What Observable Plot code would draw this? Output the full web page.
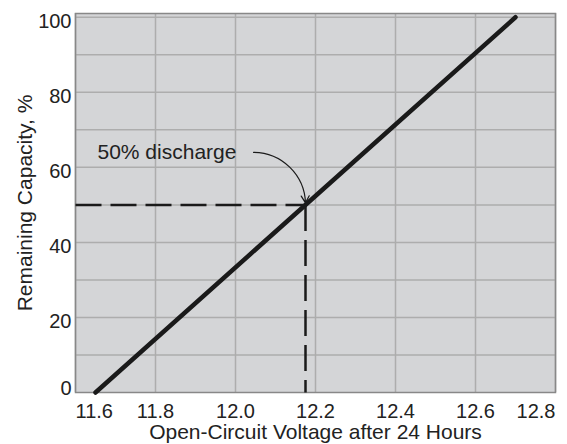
<!DOCTYPE html>
<html><head><meta charset="utf-8">
<script src="https://cdn.jsdelivr.net/npm/d3@7"></script>
<script src="https://cdn.jsdelivr.net/npm/@observablehq/plot@0.6"></script>
<style>body{margin:0;background:#fff;} #chart svg{display:block;}</style>
</head><body><div id="chart"></div>
<script>
// Data
const voltage = [11.65, 12.70];          // V, open-circuit after 24 h
const capacity = [0, 100];               // remaining capacity, %
const dischargeVoltage = [12.175];       // V at 50% discharge
const dischargeCapacity = [50];          // %
const annotationText = ["50% discharge"];
const annotationPos = [11.655, 64];      // label anchor (V, %)
const arrowFrom = [12.045, 64];          // arrow start (V, %)
const xDomain = [11.6, 12.8];
const yDomain = [0, 101];
const xTicks = [11.6, 11.8, 12.0, 12.2, 12.4, 12.6, 12.8];
const yTicks = [0, 20, 40, 60, 80, 100];
const yGrid = [10, 20, 30, 40, 50, 60, 70, 80, 90, 100];

const lineData = voltage.map((v, i) => ({v, c: capacity[i]}));
const dashData = [
  {x1: xDomain[0], y1: dischargeCapacity[0], x2: dischargeVoltage[0], y2: dischargeCapacity[0]},
  {x1: dischargeVoltage[0], y1: dischargeCapacity[0], x2: dischargeVoltage[0], y2: yDomain[0]}
];
const arrowData = [{x1: arrowFrom[0], y1: arrowFrom[1], x2: dischargeVoltage[0], y2: dischargeCapacity[0]}];
const textData = annotationText.map(t => ({t, x: annotationPos[0], y: annotationPos[1]}));

const FONT = "'Liberation Sans', Arial, Helvetica, sans-serif";
const midTicks = xTicks.slice(1, -1);

const chart = Plot.plot({
  width: 567,
  height: 444,
  marginTop: 13,
  marginRight: 12,
  marginBottom: 52,
  marginLeft: 75,
  style: {fontFamily: FONT, fontSize: "20px", color: "#222", background: "#fff"},
  x: {domain: xDomain},
  y: {domain: yDomain},
  marks: [
    Plot.frame({fill: "#d4d5d7", stroke: null}),
    Plot.gridX(xTicks, {stroke: "#adadad", strokeOpacity: 1, strokeWidth: 1.5}),
    Plot.gridY(yGrid, {stroke: "#adadad", strokeOpacity: 1, strokeWidth: 1.5}),
    Plot.frame({stroke: "#888", strokeWidth: 1.5}),
    Plot.link(dashData, {x1: "x1", y1: "y1", x2: "x2", y2: "y2", stroke: "#1a1a1a", strokeWidth: 2.5, strokeDasharray: "26,9"}),
    Plot.line(lineData, {x: "v", y: "c", stroke: "#1a1a1a", strokeWidth: 4.5}),
    Plot.arrow(arrowData, {x1: "x1", y1: "y1", x2: "x2", y2: "y2", bend: 45, headLength: 10, strokeWidth: 1.2, stroke: "#1a1a1a", insetEnd: 2}),
    Plot.text(textData, {x: "x", y: "y", text: "t", textAnchor: "start", fontSize: 21, fill: "#222"}),
    Plot.axisX([xTicks[0]], {tickSize: 0, tickPadding: 11, textAnchor: "start", label: null, fontSize: 20}),
    Plot.axisX(midTicks, {tickSize: 0, tickPadding: 11, label: null, fontSize: 20}),
    Plot.axisX([xTicks[xTicks.length - 1]], {tickSize: 0, tickPadding: 11, textAnchor: "end", label: null, fontSize: 20}),
    Plot.axisX([], {tickSize: 0, label: "Open-Circuit Voltage after 24 Hours", labelAnchor: "center", labelArrow: false, labelOffset: 46, fontSize: 21}),
    Plot.axisY([yTicks[0]], {tickSize: 0, tickPadding: 4, dy: -4, label: null, fontSize: 20}),
    Plot.axisY(yTicks.slice(1), {tickSize: 0, tickPadding: 4, dy: 4, label: null, fontSize: 20}),
    Plot.axisY([], {tickSize: 0, label: "Remaining Capacity, %", labelAnchor: "center", labelArrow: false, labelOffset: 58, fontSize: 21})
  ]
});
document.getElementById("chart").appendChild(chart);
</script>
</body></html>
